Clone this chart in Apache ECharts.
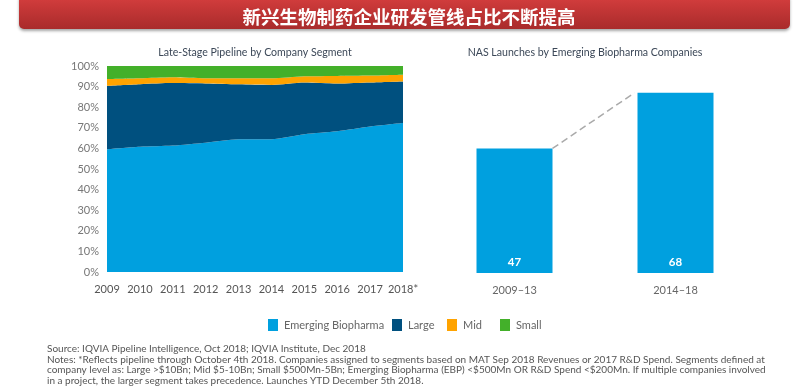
<!DOCTYPE html>
<html><head><meta charset="utf-8">
<script src="https://cdn.jsdelivr.net/npm/echarts@6/dist/echarts.min.js"></script>
<style>html,body{margin:0;padding:0;background:#fff}#c{width:798px;height:390px}</style>
</head><body><div id="c"></div>
<script>
const years = ['2009','2010','2011','2012','2013','2014','2015','2016','2017','2018*'];
const emerging = [59.6, 60.8, 61.4, 62.8, 64.4, 64.5, 66.9, 68.3, 70.6, 72.3];
const large    = [30.8, 30.4, 30.3, 28.7, 26.7, 26.3, 25.1, 23.2, 21.4, 20.2];
const mid      = [3.2, 2.8, 2.8, 2.5, 2.9, 3.2, 3.0, 3.7, 3.4, 3.3];
const small    = [6.4, 6.0, 5.5, 6.0, 6.0, 6.0, 5.0, 4.8, 4.6, 4.2];
const yTicks = [0,10,20,30,40,50,60,70,80,90,100];
const periods = ['2009–13', '2014–18'];
const nasLaunches = [47, 68];
const segments = ['Emerging Biopharma', 'Large', 'Mid', 'Small'];

const BAR_W = 76;
const C_EBP = '#00a0df', C_LARGE = '#00507f', C_MID = '#ffa300', C_SMALL = '#43b02a';
const SANS = 'Lato, Roboto, "Noto Sans", sans-serif';

const chart = echarts.init(document.getElementById('c'), null, {renderer: 'canvas'});

function area(name, data, color) {
  return {name, type: 'line', stack: 'seg', data, xAxisIndex: 0, yAxisIndex: 0,
    smooth: 0.25, symbol: 'none', lineStyle: {width: 0}, areaStyle: {color, opacity: 1},
    itemStyle: {color}, z: 2};
}
const legendLeft = [268, 392, 447, 500];
const legends = segments.map((s, i) => ({
  data: [s], left: legendLeft[i], top: 319, padding: 0,
  icon: 'rect', itemWidth: 10, itemHeight: 12, itemGap: 0,
  textStyle: {color: '#666', fontSize: 11, fontFamily: SANS, padding: [0,0,0,1]}
}));

chart.setOption({
  animation: false,
  graphic: [{
    type: 'rect', shape: {x: 19, y: -6, width: 771, height: 35, r: 5},
    style: {fill: new echarts.graphic.LinearGradient(0,0,0,1,[{offset:0,color:'#d83f3f'},{offset:1,color:'#a92b2b'}]),
      shadowBlur: 3, shadowOffsetY: 2, shadowColor: 'rgba(0,0,0,0.35)'}, z: 0
  }],
  title: [
    {text: '新兴生物制药企业研发管线占比不断提高', left: 404, top: 3, textAlign: 'center',
      textStyle: {color: '#fff', fontSize: 18.5, fontWeight: 'bold', fontFamily: '"Noto Sans CJK SC", sans-serif'}},
    {text: 'Late-Stage Pipeline by Company Segment', left: 250, top: 42, textAlign: 'center',
      textStyle: {color: '#3c4858', fontSize: 10.6, fontWeight: 'normal', fontFamily: SANS}},
    {text: 'NAS Launches by Emerging Biopharma Companies', left: 580, top: 42, textAlign: 'center',
      textStyle: {color: '#3c4858', fontSize: 10.6, fontWeight: 'normal', fontFamily: SANS}},
    {text: 'Source: IQVIA Pipeline Intelligence, Oct 2018; IQVIA Institute, Dec 2018\nNotes: *Reflects pipeline through October 4th 2018. Companies assigned to segments based on MAT Sep 2018 Revenues or 2017 R&D Spend. Segments defined at\ncompany level as: Large >$10Bn; Mid $5-10Bn; Small $500Mn-5Bn; Emerging Biopharma (EBP) <$500Mn OR R&D Spend <$200Mn. If multiple companies involved\nin a project, the larger segment takes precedence. Launches YTD December 5th 2018.',
      left: 47, top: 344, padding: 0,
      textStyle: {color: '#555', fontSize: 10, lineHeight: 10.4, fontWeight: 'normal', fontFamily: SANS}}
  ],
  legend: legends,
  grid: [
    {left: 107, width: 296, top: 66, height: 206},
    {left: 434, width: 322, top: 61, height: 212}
  ],
  xAxis: [
    {type: 'category', gridIndex: 0, data: years, boundaryGap: false,
      axisLine: {show: false}, axisTick: {show: false},
      axisLabel: {color: '#555', fontSize: 11, margin: 12, fontFamily: SANS, interval: 0}},
    {type: 'category', gridIndex: 1, data: periods,
      axisLine: {show: false}, axisTick: {show: false},
      axisLabel: {color: '#666', fontSize: 11, margin: 12, fontFamily: SANS}}
  ],
  yAxis: [
    {type: 'value', gridIndex: 0, min: yTicks[0], max: yTicks[yTicks.length-1], interval: yTicks[1]-yTicks[0],
      splitLine: {show: false}, axisLine: {show: false}, axisTick: {show: false},
      axisLabel: {formatter: '{value}%', color: '#777', fontSize: 11, margin: 8, fontFamily: SANS}},
    {type: 'value', gridIndex: 1, min: 0, max: 80, show: false, splitLine: {show: false}}
  ],
  series: [
    area(segments[0], emerging, C_EBP),
    area(segments[1], large, C_LARGE),
    area(segments[2], mid, C_MID),
    area(segments[3], small, C_SMALL),
    {type: 'bar', xAxisIndex: 1, yAxisIndex: 1, data: nasLaunches, barWidth: BAR_W,
      itemStyle: {color: C_EBP},
      label: {show: true, position: 'insideBottom', distance: 5, color: '#fff', fontWeight: 'bold', fontSize: 11.5, fontFamily: SANS}},
    {type: 'custom', xAxisIndex: 1, yAxisIndex: 1, data: [[0, nasLaunches[0], 1, nasLaunches[1]]],
      renderItem: function (params, api) {
        const p1 = api.coord([api.value(0), api.value(1)]);
        const p2 = api.coord([api.value(2), api.value(3)]);
        return {type: 'line',
          shape: {x1: p1[0] + BAR_W/2, y1: p1[1], x2: p2[0] - BAR_W/2 - 3, y2: p2[1]},
          style: {stroke: '#aaa', lineWidth: 1.5, lineDash: [7, 4]}};
      }, z: 3}
  ]
});
</script></body></html>
